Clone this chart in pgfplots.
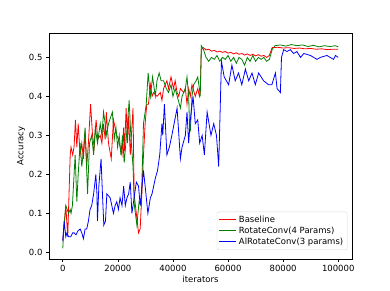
\documentclass[border=0pt]{standalone}
\usepackage{pgfplots}
\pgfplotsset{compat=1.18}
\usepackage{fontspec}
\setmainfont{DejaVu Sans}
\begin{document}
\begin{tikzpicture}
\begin{axis}[name=ax,
  scale only axis, width=303pt, height=226pt,
  xmin=-5000, xmax=105000, ymin=-0.017, ymax=0.5626,
  xtick={0,20000,40000,60000,80000,100000},
  ytick={0,0.1,0.2,0.3,0.4,0.5},
  scaled x ticks=false,
  xticklabel style={/pgf/number format/fixed,/pgf/number format/1000 sep={}},
  yticklabel style={/pgf/number format/fixed,/pgf/number format/fixed zerofill,/pgf/number format/precision=1},
  /pgf/number format/assume math mode=true,
  tick align=outside, tick pos=left, major tick length=3pt,
  tick style={black, line width=0.6pt},
  axis line style={line width=0.6pt},
  font=\fontsize{8.5}{10}\selectfont,
  xlabel={iterators}, ylabel={Accuracy},
  xlabel style={yshift=3pt}, ylabel style={yshift=-3pt},
  legend cell align=left,
  legend style={at={(0.985,0.04)}, anchor=south east, draw=black!15, rounded corners=2pt, font=\fontsize{8.5}{10}\selectfont, row sep=-1pt, inner sep=2pt},
  legend image post style={line width=0.9pt},
]
\addplot[red, line width=0.8pt] coordinates {
(0,0.03)(1100,0.12)(1800,0.04)(2700,0.25)(3000,0.27)(3600,0.25)(4100,0.27)(4600,0.34)(5100,0.27)(5600,0.33)(6300,0.25)(6900,0.28)(7500,0.24)(8100,0.31)(8700,0.22)(9300,0.28)(10100,0.38)(10800,0.30)(11400,0.27)(12100,0.34)(12700,0.29)(13600,0.30)(14200,0.28)(14800,0.33)(15400,0.29)(15800,0.36)(16600,0.28)(17600,0.24)(18400,0.34)(19000,0.32)(19600,0.30)(20200,0.29)(20800,0.27)(21500,0.25)(22100,0.32)(22400,0.26)(23000,0.37)(23500,0.28)(23900,0.35)(24500,0.25)(25500,0.37)(25900,0.15)(26700,0.10)(27500,0.05)(28100,0.06)(28700,0.15)(29300,0.25)(29900,0.33)(30500,0.38)(31100,0.38)(31800,0.43)(32400,0.40)(33000,0.41)(34200,0.40)(35400,0.41)(36000,0.39)(36600,0.42)(37200,0.43)(37800,0.44)(38400,0.42)(39300,0.45)(40200,0.42)(40800,0.44)(41500,0.41)(42100,0.40)(42700,0.42)(43900,0.41)(44500,0.42)(45100,0.38)(45700,0.42)(46300,0.40)(46900,0.43)(48100,0.40)(49000,0.42)(49600,0.40)(49900,0.41)(50300,0.52)(51100,0.525)(52000,0.519)(53000,0.521)(54000,0.516)(55000,0.518)(56000,0.514)(57000,0.516)(58000,0.513)(59000,0.515)(60000,0.511)(61000,0.513)(62000,0.509)(63000,0.512)(64000,0.508)(65000,0.510)(66000,0.506)(67000,0.509)(68000,0.505)(69000,0.508)(70000,0.504)(71000,0.507)(72000,0.503)(73000,0.505)(74000,0.500)(75000,0.505)(76000,0.525)(78000,0.526)(80000,0.524)(82000,0.525)(84000,0.523)(86000,0.524)(88000,0.522)(90000,0.523)(92000,0.521)(94000,0.522)(96000,0.520)(98000,0.521)(100000,0.521)
};
\addlegendentry{Baseline}
\addplot[color={rgb,1:red,0;green,0.5;blue,0}, line width=0.8pt] coordinates {
(0,0.01)(300,0.05)(1100,0.12)(2100,0.10)(2700,0.11)(3000,0.10)(3500,0.12)(4100,0.20)(4500,0.25)(5100,0.13)(5600,0.20)(6300,0.28)(6900,0.22)(7500,0.26)(8100,0.32)(9000,0.15)(9700,0.28)(10500,0.30)(11200,0.25)(11800,0.32)(12600,0.28)(13600,0.33)(14200,0.30)(14800,0.36)(15400,0.33)(15800,0.30)(16600,0.33)(18000,0.36)(18700,0.29)(19300,0.32)(19900,0.27)(20500,0.30)(21100,0.25)(21700,0.30)(22300,0.23)(22900,0.28)(23500,0.33)(24100,0.39)(24700,0.30)(25500,0.22)(26000,0.12)(26900,0.07)(27700,0.13)(28500,0.12)(29300,0.33)(30300,0.38)(31000,0.46)(31800,0.40)(32600,0.45)(33600,0.40)(34200,0.44)(35000,0.46)(35700,0.44)(36600,0.44)(37600,0.42)(38400,0.41)(39300,0.43)(40000,0.40)(40800,0.42)(42700,0.37)(43300,0.40)(44500,0.42)(45100,0.45)(45700,0.40)(46000,0.33)(46300,0.31)(46900,0.40)(47500,0.43)(48400,0.44)(49000,0.45)(49600,0.42)(49900,0.40)(50300,0.53)(51100,0.52)(52000,0.50)(53000,0.49)(54000,0.50)(55000,0.495)(56000,0.505)(57000,0.49)(58000,0.50)(59000,0.495)(60000,0.505)(61000,0.49)(62000,0.50)(63000,0.485)(64000,0.50)(65000,0.495)(66000,0.48)(67000,0.50)(68000,0.49)(69000,0.505)(70000,0.49)(71000,0.50)(72000,0.495)(73000,0.50)(74000,0.49)(75000,0.495)(76000,0.52)(77000,0.53)(79000,0.532)(81000,0.529)(83000,0.533)(85000,0.530)(87000,0.532)(89000,0.528)(91000,0.531)(93000,0.527)(95000,0.530)(97000,0.528)(99000,0.530)(100000,0.527)
};
\addlegendentry{RotateConv(4 Params)}
\addplot[blue, line width=0.8pt] coordinates {
(0,0.03)(500,0.08)(1100,0.04)(1500,0.05)(2100,0.04)(2900,0.04)(3600,0.05)(4100,0.05)(4800,0.045)(5500,0.055)(6300,0.06)(6900,0.05)(7500,0.035)(8100,0.06)(8700,0.06)(9300,0.08)(9900,0.11)(10500,0.12)(11200,0.15)(12000,0.20)(12400,0.15)(12600,0.08)(13100,0.17)(13900,0.24)(14400,0.15)(14900,0.07)(15500,0.08)(16000,0.15)(17200,0.14)(18400,0.10)(19000,0.12)(19600,0.13)(20200,0.11)(20800,0.14)(21500,0.12)(22100,0.17)(22700,0.12)(23300,0.14)(23900,0.15)(24500,0.18)(25100,0.10)(25700,0.13)(26700,0.18)(27500,0.17)(28100,0.12)(29300,0.21)(29900,0.17)(30900,0.10)(31800,0.14)(32400,0.15)(33000,0.17)(33600,0.19)(34400,0.21)(35200,0.25)(36000,0.33)(36300,0.30)(36900,0.38)(37800,0.25)(38700,0.27)(39600,0.30)(41500,0.37)(42700,0.24)(43300,0.27)(44500,0.30)(45100,0.36)(45700,0.28)(46300,0.34)(47300,0.40)(48100,0.33)(49000,0.34)(49700,0.28)(50600,0.30)(51400,0.25)(52400,0.36)(53800,0.30)(54800,0.33)(55800,0.30)(56600,0.22)(57600,0.49)(58600,0.45)(60200,0.43)(61400,0.48)(62600,0.44)(63800,0.46)(65000,0.43)(66300,0.47)(67500,0.44)(68700,0.46)(69900,0.43)(71100,0.46)(72900,0.44)(74700,0.43)(75900,0.43)(77200,0.46)(77800,0.42)(79000,0.41)(79400,0.50)(80200,0.52)(81400,0.515)(82600,0.52)(83800,0.51)(85000,0.515)(86300,0.50)(87500,0.51)(89900,0.505)(92300,0.495)(93500,0.50)(95900,0.505)(98300,0.495)(99000,0.505)(100000,0.50)
};
\addlegendentry{AlRotateConv(3 params)}
\end{axis}
\pgfresetboundingbox
\path ([shift={(-49pt,-32pt)}]ax.south west) rectangle ([shift={(38pt,33pt)}]ax.north east);
\end{tikzpicture}
\end{document}
